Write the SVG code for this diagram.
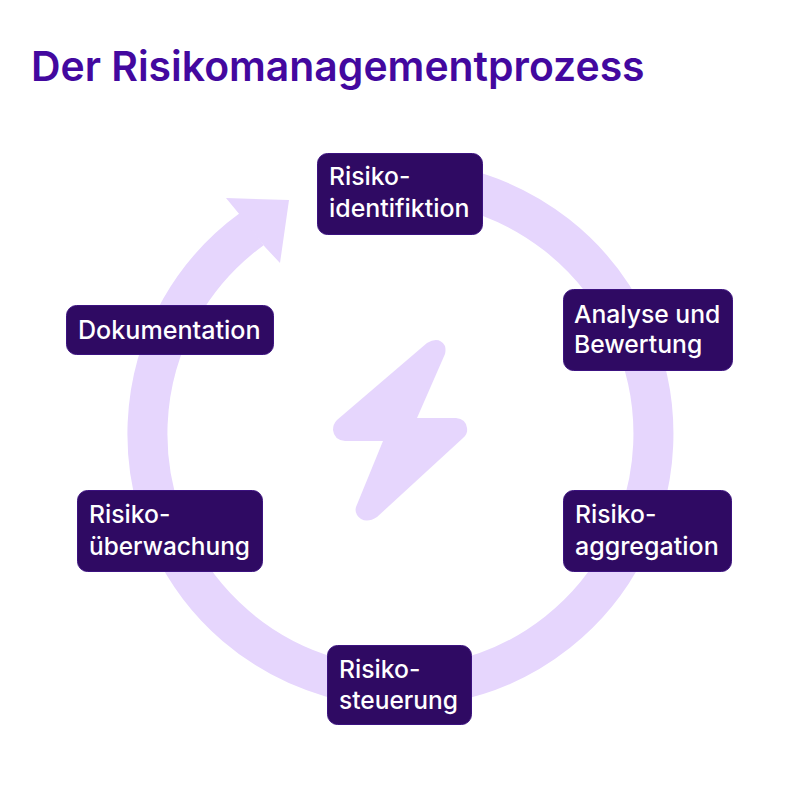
<svg xmlns="http://www.w3.org/2000/svg" width="800" height="800" viewBox="0 0 800 800">
<style>
.n{fill:#2f0a63;stroke:#3c1280;stroke-width:1}
.t{font-family:"Inter","Liberation Sans",sans-serif;font-size:24.7px;font-weight:500;fill:#fff}
.h{font-family:"Inter","Liberation Sans",sans-serif;font-size:40.9px;font-weight:600;fill:#43089f}
.s{fill:#e6d6fd}
</style>
<rect width="800" height="800" fill="#fff"/>
<text class="h" x="31" y="81">Der Risikomanagementprozess</text>
<g id="connectors">
<path d="M460 188A253 253 0 1 1 252 229" fill="none" stroke="#e6d6fd" stroke-width="40"/>
<polygon class="s" points="226,198 289,200 280,263 265,247 240,215"/>
</g>
<path id="bolt" class="s" d="M427 343Q439 336 445 346Q446 350 445 354L417 418H456Q466 419 467 428Q468 434 463 438L377 517Q368 523 361 519Q354 514 356 507L383 441H345Q334 440 333 430Q333 424 337 420Z"/>
<g id="n1"><rect class="n" x="317.500" y="153.500" width="165" height="81" rx="10"/><text class="t" x="329" y="185">Risiko-</text><text class="t" x="329" y="217" style="font-size:24.9px">identifiktion</text></g>
<g id="n2"><rect class="n" x="563.500" y="289.500" width="169" height="81" rx="10"/><text class="t" x="574" y="323">Analyse und</text><text class="t" x="574" y="353">Bewertung</text></g>
<g id="n3"><rect class="n" x="563.500" y="490.500" width="168" height="81" rx="10"/><text class="t" x="575" y="523">Risiko-</text><text class="t" x="575" y="555" style="font-size:25px">aggregation</text></g>
<g id="n4"><rect class="n" x="327.500" y="645.500" width="144" height="79" rx="10"/><text class="t" x="339" y="678">Risiko-</text><text class="t" x="339" y="709" style="font-size:24.5px">steuerung</text></g>
<g id="n5"><rect class="n" x="77.500" y="490.500" width="185" height="81" rx="10"/><text class="t" x="89" y="523">Risiko-</text><text class="t" x="89" y="555" style="font-size:24.4px">überwachung</text></g>
<g id="n6"><rect class="n" x="66.500" y="305.500" width="207" height="49" rx="10"/><text class="t" x="78" y="339" style="font-size:25.1px">Dokumentation</text></g>
</svg>
